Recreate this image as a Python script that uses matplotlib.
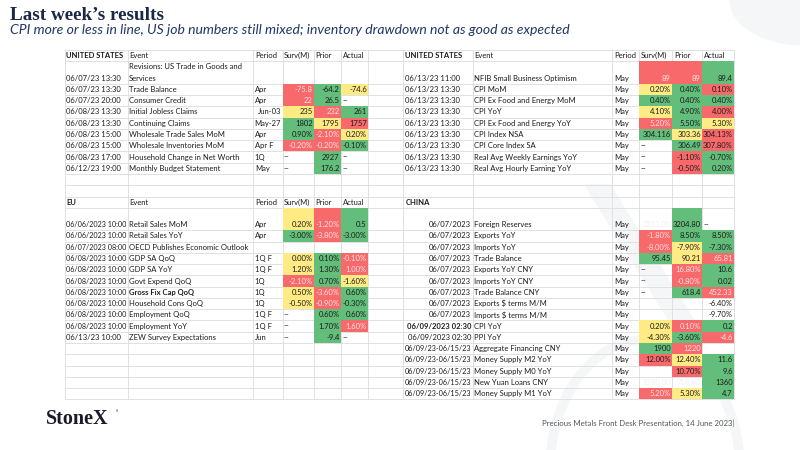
import matplotlib.pyplot as plt
from matplotlib.patches import Rectangle, Ellipse, Polygon

# ---------------- data ----------------
# United States, top left
us1_date = ["06/07/23 13:30", "06/07/23 13:30", "06/07/23 20:00", "06/08/23 13:30",
            "06/08/23 13:30", "06/08/23 15:00", "06/08/23 15:00", "06/08/23 17:00",
            "06/12/23 19:00"]
us1_event = ["Revisions: US Trade in Goods and\nServices", "Trade Balance", "Consumer Credit",
             "Initial Jobless Claims", "Continuing Claims", "Wholesale Trade Sales MoM",
             "Wholesale Inventories MoM", "Household Change in Net Worth",
             "Monthly Budget Statement"]
us1_period = ["", "Apr", "Apr", "Jun-03", "May-27", "Apr", "Apr F", "1Q", "May"]
us1_surv = ["", "-75.8", "22", "235", "1802", "0.90%", "-0.20%", "--", "--"]
us1_prior = ["", "-64.2", "26.5", "232", "1795", "-2.10%", "-0.20%", "2927", "176.2"]
us1_actual = ["", "-74.6", "--", "261", "1757", "0.20%", "-0.10%", "--", "--"]
# fill codes: r red/light text, R red/dark text, g green, y yellow, . none, f none/faint text
us1_fill = ["...", "rgy", "rg.", "yrg", "gyR", "gry", "rrg", ".g.", ".g."]

# United States, top right
us2_date = ["06/13/23 11:00"] + ["06/13/23 13:30"] * 8
us2_event = ["NFIB Small Business Optimism", "CPI MoM", "CPI Ex Food and Energy MoM", "CPI YoY",
             "CPI Ex Food and Energy YoY", "CPI Index NSA", "CPI Core Index SA",
             "Real Avg Weekly Earnings YoY", "Real Avg Hourly Earning YoY"]
us2_period = ["May"] * 9
us2_surv = ["89", "0.20%", "0.40%", "4.10%", "5.20%", "304.116", "--", "--", "--"]
us2_prior = ["89", "0.40%", "0.40%", "4.90%", "5.50%", "303.36", "306.49", "-1.10%", "-0.50%"]
us2_actual = ["89.4", "0.10%", "0.40%", "4.00%", "5.30%", "304.13%", "307.80%", "-0.70%", "0.20%"]
us2_fill = ["rrg", "ygR", "ggg", "ygR", "rgy", "gyR", ".gR", ".Rg", ".Rg"]

# EU, bottom left
eu_date = ["06/06/2023 10:00", "06/06/2023 10:00", "06/07/2023 08:00"] + ["06/08/2023 10:00"] * 7 \
          + ["06/13/23 10:00"]
eu_event = ["Retail Sales MoM", "Retail Sales YoY", "OECD Publishes Economic Outlook", "GDP SA QoQ",
            "GDP SA YoY", "Govt Expend QoQ", "Gross Fix Cap QoQ", "Household Cons QoQ",
            "Employment QoQ", "Employment YoY", "ZEW Survey Expectations"]
eu_period = ["Apr", "Apr", "", "1Q F", "1Q F", "1Q", "1Q", "1Q", "1Q F", "1Q F", "Jun"]
eu_surv = ["0.20%", "-3.00%", "", "0.00%", "1.20%", "-2.10%", "0.50%", "-0.50%", "--", "--", "--"]
eu_prior = ["-1.20%", "-3.80%", "", "0.10%", "1.30%", "0.70%", "-3.60%", "-0.90%", "0.60%",
            "1.70%", "-9.4"]
eu_actual = ["0.5", "-3.00%", "", "-0.10%", "1.00%", "-1.60%", "0.60%", "-0.30%", "0.60%",
             "1.60%", "--"]
eu_fill = ["yrg", "grg", "...", "ygr", "ygr", "rgy", "yrg", "yrg", ".gg", ".gr", ".g."]
eu_bold = ["Gross Fix Cap QoQ"]

# China, bottom right
cn_date = ["06/07/2023"] * 9 + ["06/09/2023 02:30"] * 2 + ["06/09/23-06/15/23"] * 5
cn_event = ["Foreign Reserves", "Exports YoY", "Imports YoY", "Trade Balance", "Exports YoY CNY",
            "Imports YoY CNY", "Trade Balance CNY", "Exports $ terms M/M", "Imports $ terms M/M",
            "CPI YoY", "PPI YoY", "Aggregate Financing CNY", "Money Supply M2 YoY",
            "Money Supply M0 YoY", "New Yuan Loans CNY", "Money Supply M1 YoY"]
cn_period = ["May"] * 16
cn_surv = ["3213.00", "-1.80%", "-8.00%", "95.45", "--", "--", "--", "", "", "0.20%", "-4.30%",
           "1900", "12.00%", "", "1590.00", "5.20%"]
cn_prior = ["3204.80", "8.50%", "-7.90%", "90.21", "16.80%", "-0.80%", "618.4", "", "", "0.10%",
            "-3.60%", "1220", "12.40%", "10.70%", "718.80", "5.30%"]
cn_actual = ["--", "8.50%", "-7.30%", "65.81", "10.6", "0.02", "452.33", "-6.40%", "-9.70%", "0.2",
             "-4.6", "--", "11.6", "9.6", "1360", "4.7"]
cn_fill = ["fg.", "rgg", "ryg", "gyr", ".rg", ".rg", ".gr", "...", "...", "yrg", "ygr", "grf",
           "Ryg", ".Rg", "ffg", "ryg"]
cn_bold_date = [9]

# ---------------- layout ----------------
Y0, H = 50.0, 11.27
LEFT_COLS = [64.5, 127.5, 253.3, 282.5, 314.0, 341.0, 368.3]
RIGHT_COLS = [403.3, 472.7, 612.3, 639.3, 672.3, 702.3, 734.3]
FILL = {"r": "#F8696B", "R": "#F8696B", "g": "#63BE7B", "y": "#FFEB84"}
TXT = "#1c1c1c"
FS = 5.5
FONT = ["Lato", "DejaVu Sans"]

fig = plt.figure(figsize=(8, 4.5), dpi=100)
ax = fig.add_axes([0, 0, 1, 1])
ax.set_xlim(0, 800)
ax.set_ylim(450, 0)
ax.axis("off")
renderer = fig.canvas.get_renderer()

# faint watermark shapes
wm = "#F5F6F8"
ax.add_patch(Ellipse((805, 0), 150, 90, color=wm, zorder=0))
ax.add_patch(Polygon([(585, 185), (610, 185), (700, 330), (675, 330)], color=wm, zorder=0))
ax.add_patch(Ellipse((645, 470), 190, 260, fill=False, ec=wm, lw=7, zorder=0))


def uy(u):
    return Y0 + (u + 0.5) * H


def put(x, u, s, ha="left", color=TXT, weight="normal", maxw=None):
    t = ax.text(x, uy(u), s, ha=ha, va="center", fontsize=FS, color=color,
                family=FONT, fontweight=weight, zorder=4)
    if maxw:
        w = t.get_window_extent(renderer).width
        if w > maxw:
            t.set_fontsize(FS * maxw / w)
    return t


def draw_table(cols, head_u, title, heads, dates, events, periods, surv, prior, actual, fills,
               date_right=False, bold_events=(), bold_dates=()):
    put(cols[0] + 2, head_u, title, weight="bold")
    if heads:
        for c, h in zip(range(1, 6), ["Event", "Period", "Surv(M)", "Prior", "Actual"]):
            put(cols[c] + 1.5, head_u, h)
    date_w = cols[1] - cols[0] - 3.5
    for i in range(len(dates)):
        u = head_u + 2 + i
        top = Y0 + (u - (1 if i == 0 else 0)) * H
        hgt = H * (2 if i == 0 else 1)
        # date
        w = "bold" if i in bold_dates else "normal"
        if date_right:
            put(cols[1] - 1.5, u, dates[i], ha="right", weight=w, maxw=date_w)
        else:
            put(cols[0] + 2, u, dates[i], weight=w, maxw=date_w)
        # event, may wrap on two lines
        lines = events[i].split("\n")
        for k, line in enumerate(lines):
            put(cols[1] + 1.5, u - (len(lines) - 1 - k), line,
                weight="bold" if events[i] in bold_events else "normal")
        p = periods[i]
        if "-" in p:
            put(cols[3] - 1.5, u, p, ha="right")
        else:
            put(cols[2] + 1.5, u, p)
        for c, val, code in zip(range(3, 6), [surv[i], prior[i], actual[i]], fills[i]):
            if code in FILL:
                ax.add_patch(Rectangle((cols[c], top), cols[c + 1] - cols[c], hgt,
                                       color=FILL[code], lw=0, zorder=2))
            if not val:
                continue
            col = TXT
            if code == "r":
                col = "#FFE3E3"
            elif code == "f":
                col = "#EDF2EE"
            if val == "--":
                put(cols[c] + 1.5, u, val, color=col)
            else:
                put(cols[c + 1] - 1.5, u, val, ha="right", color=col)


# grid lines
n_units = 31
for k in range(n_units + 1):
    if k in (2, 15):
        continue
    ax.plot([LEFT_COLS[0], RIGHT_COLS[-1]], [Y0 + k * H] * 2, color="#DCDCDC", lw=0.6, zorder=1)
for x in LEFT_COLS + RIGHT_COLS:
    ax.plot([x, x], [Y0, Y0 + n_units * H], color="#DCDCDC", lw=0.6, zorder=1)

draw_table(LEFT_COLS, 0, "UNITED STATES", True, us1_date, us1_event, us1_period,
           us1_surv, us1_prior, us1_actual, us1_fill)
draw_table(RIGHT_COLS, 0, "UNITED STATES", True, us2_date, us2_event, us2_period,
           us2_surv, us2_prior, us2_actual, us2_fill)
draw_table(LEFT_COLS, 13, "EU", True, eu_date, eu_event, eu_period,
           eu_surv, eu_prior, eu_actual, eu_fill, bold_events=eu_bold)
draw_table(RIGHT_COLS, 13, "CHINA", False, cn_date, cn_event, cn_period,
           cn_surv, cn_prior, cn_actual, cn_fill, date_right=True, bold_dates=cn_bold_date)

# titles and footer
ax.text(10, 15, "Last week\u2019s results", fontsize=13.8, fontweight="bold",
        family="Liberation Serif", color="#1B2845", va="center")
ax.text(10, 29.5, "CPI more or less in line, US job numbers still mixed; inventory drawdown not as good as expected",
        fontsize=10.1, style="italic", family=FONT, color="#1F3864", va="center")
ax.text(46, 418.5, "StoneX", fontsize=14.5, fontweight="bold", family="Liberation Serif",
        color="#1a1a2a", va="center")
ax.text(115.5, 412.5, "\u00b0", fontsize=4, family=FONT, color="#1a1a2a", va="center")
ax.text(734, 423, "Precious Metals Front Desk Presentation, 14 June 2023|", fontsize=5.6,
        family=FONT, color="#555555", ha="right", va="center")

fig.savefig("out.png", dpi=100)
